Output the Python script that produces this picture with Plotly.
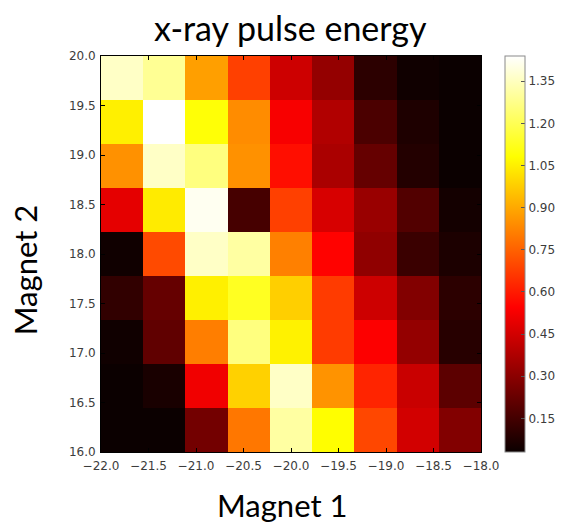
import numpy as np
import plotly.graph_objects as go

# Scan grid: 9 x 9 bins over the two magnet settings
magnet1_edges = np.linspace(-22.0, -18.0, 10)
magnet2_edges = np.linspace(16.0, 20.0, 10)

# Measured x-ray pulse energy per bin, one list per Magnet 2 row (bottom -> top),
# each running from Magnet 1 = -22 to -18
energy_row0 = [0.03, 0.03, 0.25, 0.795, 1.31, 1.08, 0.695, 0.45, 0.28]
energy_row1 = [0.03, 0.06, 0.515, 0.985, 1.36, 0.855, 0.62, 0.43, 0.20]
energy_row2 = [0.04, 0.21, 0.81, 1.26, 1.055, 0.67, 0.54, 0.32, 0.09]
energy_row3 = [0.11, 0.22, 1.05, 1.13, 0.98, 0.67, 0.44, 0.28, 0.10]
energy_row4 = [0.04, 0.70, 1.36, 1.31, 0.815, 0.55, 0.31, 0.13, 0.065]
energy_row5 = [0.49, 1.04, 1.42, 0.155, 0.68, 0.46, 0.33, 0.18, 0.05]
energy_row6 = [0.85, 1.36, 1.26, 0.85, 0.575, 0.365, 0.22, 0.08, 0.03]
energy_row7 = [1.05, 1.44, 1.09, 0.84, 0.53, 0.38, 0.165, 0.07, 0.03]
energy_row8 = [1.36, 1.29, 0.88, 0.68, 0.44, 0.32, 0.10, 0.04, 0.03]

energy = [energy_row0, energy_row1, energy_row2, energy_row3, energy_row4,
          energy_row5, energy_row6, energy_row7, energy_row8]

x_ticks = [-22.0, -21.5, -21.0, -20.5, -20.0, -19.5, -19.0, -18.5, -18.0]
y_ticks = [16.0, 16.5, 17.0, 17.5, 18.0, 18.5, 19.0, 19.5, 20.0]
cbar_ticks = [0.15, 0.30, 0.45, 0.60, 0.75, 0.90, 1.05, 1.20, 1.35]

# matplotlib "hot" colormap
hot = [
    [0.0, "rgb(11,0,0)"],
    [0.365079, "rgb(255,0,0)"],
    [0.746032, "rgb(255,255,0)"],
    [1.0, "rgb(255,255,255)"],
]

tick_font = dict(family="DejaVu Sans", size=12, color="#3c3c3c")
label_font = dict(family="Lato", size=31, color="black")

fig = go.Figure(
    go.Heatmap(
        x=magnet1_edges,
        y=magnet2_edges,
        z=energy,
        colorscale=hot,
        colorbar=dict(
            x=(517 - 101) / 391,
            xanchor="left",
            xpad=0,
            y=0.5,
            yanchor="middle",
            len=1.0,
            ypad=0,
            thickness=20,
            outlinewidth=1,
            outlinecolor="#8a8a8a",
            tickvals=cbar_ticks,
            ticktext=[f"{v:.2f}" for v in cbar_ticks],
            ticks="inside",
            ticklen=4,
            tickcolor="#555555",
            tickfont=tick_font,
        ),
    )
)

axis_common = dict(
    showline=True,
    linecolor="black",
    linewidth=1,
    mirror="ticks",
    ticks="inside",
    ticklen=4,
    tickcolor="black",
    showgrid=False,
    zeroline=False,
    tickfont=tick_font,
    tickformat=".1f",
)

fig.update_xaxes(range=[-22, -18], tickvals=x_ticks, ticklabelstandoff=3, **axis_common)
fig.update_yaxes(range=[16, 20], tickvals=y_ticks, ticklabelstandoff=2, **axis_common)

fig.update_layout(
    width=572,
    height=526,
    margin=dict(l=101, r=80, t=56, b=74),
    paper_bgcolor="white",
    plot_bgcolor="white",
    annotations=[
        dict(text="x-ray pulse energy", xref="paper", yref="paper",
             x=(296 - 101) / 391, y=(452 - 28) / 396,
             xanchor="center", yanchor="middle", showarrow=False, font=dict(label_font, size=34)),
        dict(text="Magnet 1", xref="paper", yref="paper",
             x=(287 - 101) / 391, y=(452 - 505) / 396,
             xanchor="center", yanchor="middle", showarrow=False, font=label_font),
        dict(text="Magnet 2", xref="paper", yref="paper",
             x=(23 - 101) / 391, y=(452 - 270) / 396, textangle=-90,
             xanchor="center", yanchor="middle", showarrow=False, font=label_font),
    ],
)

fig.write_html("out.html")
